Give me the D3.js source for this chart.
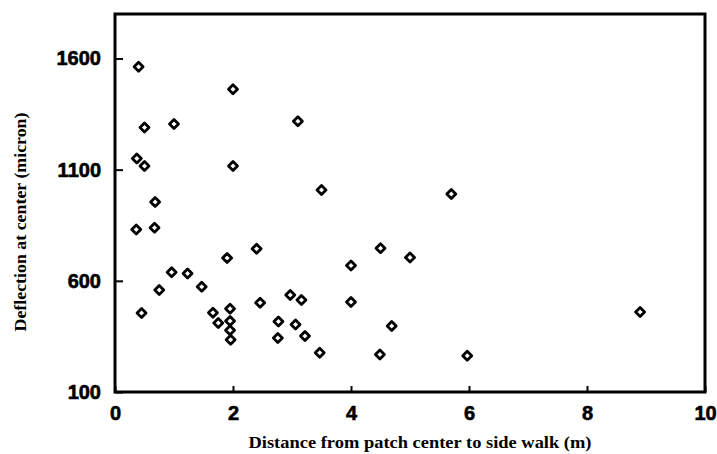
<!DOCTYPE html>
<html>
<head>
<meta charset="utf-8">
<script src="https://cdn.jsdelivr.net/npm/d3@7"></script>
<style>
  body { margin: 0; background: #fff; }
</style>
</head>
<body>
<script>
// distance from patch center to side walk (m)
var distance = [0.4, 2.0, 0.5, 1.0, 3.1, 0.37, 0.5, 2.0, 3.5, 5.7,
                0.68, 0.36, 0.67, 1.9, 2.4, 4.5, 5.0, 4.0, 0.96, 1.23,
                1.47, 0.75, 2.97, 3.16, 2.46, 4.0, 1.66, 0.45, 1.95, 1.75,
                1.95, 1.95, 1.96, 2.77, 2.76, 3.06, 3.22, 3.47, 4.69, 4.49,
                5.97, 8.9];
// deflection at center (micron)
var deflection = [1563, 1462, 1290, 1305, 1318, 1150, 1116, 1116, 1008, 990,
                  955, 831, 839, 703, 744, 747, 705, 669, 639, 633,
                  573, 559, 536, 514, 501, 505, 456, 455, 474, 410,
                  419, 378, 335, 417, 343, 404, 352, 277, 397, 269,
                  263, 460];
var xTicks = [0, 2, 4, 6, 8, 10];
var yTicks = [100, 600, 1100, 1600];

var width = 717, height = 454;
var margin = {left: 115, right: 12, top: 14, bottom: 62};

var svg = d3.select('body').append('svg')
    .attr('width', width)
    .attr('height', height);

var x = d3.scaleLinear().domain([0, 10]).range([margin.left, width - margin.right]);
var y = d3.scaleLinear().domain([100, 1800]).range([height - margin.bottom, margin.top]);

var points = distance.map(function (d, i) { return {x: d, y: deflection[i]}; });

// frame
svg.append('rect')
    .attr('x', x(0)).attr('y', y(1800))
    .attr('width', x(10) - x(0)).attr('height', y(100) - y(1800))
    .attr('fill', 'none').attr('stroke', '#000').attr('stroke-width', 3);

// axes with inward ticks
var xAxis = svg.append('g')
    .attr('transform', 'translate(0,' + y(100) + ')')
    .call(d3.axisBottom(x).tickValues(xTicks).tickFormat(d3.format('d'))
        .tickSizeInner(-6).tickSizeOuter(0).tickPadding(14));
var yAxis = svg.append('g')
    .attr('transform', 'translate(' + x(0) + ',0)')
    .call(d3.axisLeft(y).tickValues(yTicks).tickFormat(d3.format('d'))
        .tickSizeInner(-8).tickSizeOuter(0).tickPadding(14));

[xAxis, yAxis].forEach(function (g) {
    g.select('.domain').remove();
    g.selectAll('line').attr('stroke', '#000').attr('stroke-width', 2);
    g.selectAll('text')
        .attr('fill', '#000')
        .attr('stroke', '#000')
        .attr('stroke-width', 0.6)
        .style('font-family', '"Liberation Sans", Arial, sans-serif')
        .style('font-weight', 'bold')
        .style('font-size', '20px');
});
xAxis.selectAll('text').attr('dy', '0.71em');

// markers
svg.append('g').selectAll('path')
    .data(points)
    .enter()
    .append('path')
    .attr('d', 'M0,-4.5L4.5,0L0,4.5L-4.5,0Z')
    .attr('transform', function (d) { return 'translate(' + x(d.x) + ',' + y(d.y) + ')'; })
    .attr('fill', '#fff')
    .attr('stroke', '#000')
    .attr('stroke-width', 2.8)
    .attr('stroke-linejoin', 'round');

// titles
svg.append('text')
    .attr('x', 420).attr('y', 448)
    .attr('text-anchor', 'middle')
    .attr('textLength', 343)
    .attr('lengthAdjust', 'spacingAndGlyphs')
    .style('font-family', '"Liberation Serif", "Times New Roman", serif')
    .style('font-weight', 'bold')
    .style('font-size', '16.5px')
    .text('Distance from patch center to side walk (m)');

svg.append('text')
    .attr('transform', 'translate(26,222) rotate(-90)')
    .attr('text-anchor', 'middle')
    .attr('textLength', 219)
    .attr('lengthAdjust', 'spacingAndGlyphs')
    .style('font-family', '"Liberation Serif", "Times New Roman", serif')
    .style('font-weight', 'bold')
    .style('font-size', '16px')
    .text('Deflection at center (micron)');
</script>
</body>
</html>
